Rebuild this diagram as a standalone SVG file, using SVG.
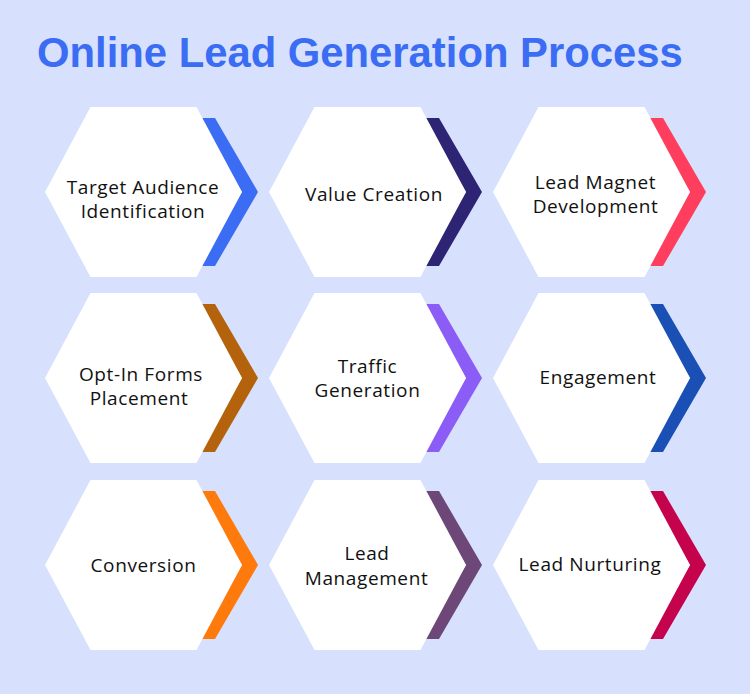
<svg xmlns="http://www.w3.org/2000/svg" xmlns:xlink="http://www.w3.org/1999/xlink" width="750" height="694" viewBox="0 0 750 694">
<defs>
<style>
.title{font-family:"Liberation Sans",Arial,sans-serif;font-weight:bold;font-size:41.8px;fill:#3a6cf4}
.lbl{font-family:"Open Sans","Liberation Sans",sans-serif;font-size:19px;fill:#111111;text-anchor:middle;letter-spacing:0.6px}
.hex{fill:#ffffff}
</style>
<polygon id="hexshape" points="-98.5,0 -53,-85 53,-85 98.5,0 53,85 -53,85"/>
<polygon id="chev" points="55.5,-74 71.5,-74 114.5,0 71.5,74 55.5,74 98.5,0"/>
</defs>
<rect width="750" height="694" fill="#d7e0fc"/>
<text class="title" x="37" y="67">Online Lead Generation Process</text>
<g id="connectors"/>
<g id="n1" transform="translate(143.5,192)">
<use xlink:href="#chev" fill="#3a6cf4"/>
<use xlink:href="#hexshape" class="hex"/>
</g>
<text class="lbl" x="143" y="194">Target Audience</text>
<text class="lbl" x="143" y="218">Identification</text>
<g id="n2" transform="translate(367.5,192)">
<use xlink:href="#chev" fill="#2d2473"/>
<use xlink:href="#hexshape" class="hex"/>
</g>
<text class="lbl" x="374" y="201">Value Creation</text>
<g id="n3" transform="translate(591.5,192)">
<use xlink:href="#chev" fill="#ff3d5c"/>
<use xlink:href="#hexshape" class="hex"/>
</g>
<text class="lbl" x="595.5" y="189">Lead Magnet</text>
<text class="lbl" x="595.5" y="213">Development</text>
<g id="n4" transform="translate(143.5,378)">
<use xlink:href="#chev" fill="#b5620c"/>
<use xlink:href="#hexshape" class="hex"/>
</g>
<text class="lbl" x="141" y="381">Opt-In Forms</text>
<text class="lbl" x="139" y="405">Placement</text>
<g id="n5" transform="translate(367.5,378)">
<use xlink:href="#chev" fill="#8b5cf6"/>
<use xlink:href="#hexshape" class="hex"/>
</g>
<text class="lbl" x="367.5" y="373">Traffic</text>
<text class="lbl" x="367.5" y="397">Generation</text>
<g id="n6" transform="translate(591.5,378)">
<use xlink:href="#chev" fill="#1a50b5"/>
<use xlink:href="#hexshape" class="hex"/>
</g>
<text class="lbl" x="598" y="384">Engagement</text>
<g id="n7" transform="translate(143.5,565)">
<use xlink:href="#chev" fill="#ff7a0d"/>
<use xlink:href="#hexshape" class="hex"/>
</g>
<text class="lbl" x="143.5" y="572">Conversion</text>
<g id="n8" transform="translate(367.5,565)">
<use xlink:href="#chev" fill="#6c4778"/>
<use xlink:href="#hexshape" class="hex"/>
</g>
<text class="lbl" x="367" y="560">Lead</text>
<text class="lbl" x="366.5" y="585">Management</text>
<g id="n9" transform="translate(591.5,565)">
<use xlink:href="#chev" fill="#c4034c"/>
<use xlink:href="#hexshape" class="hex"/>
</g>
<text class="lbl" x="590" y="571">Lead Nurturing</text>
</svg>
